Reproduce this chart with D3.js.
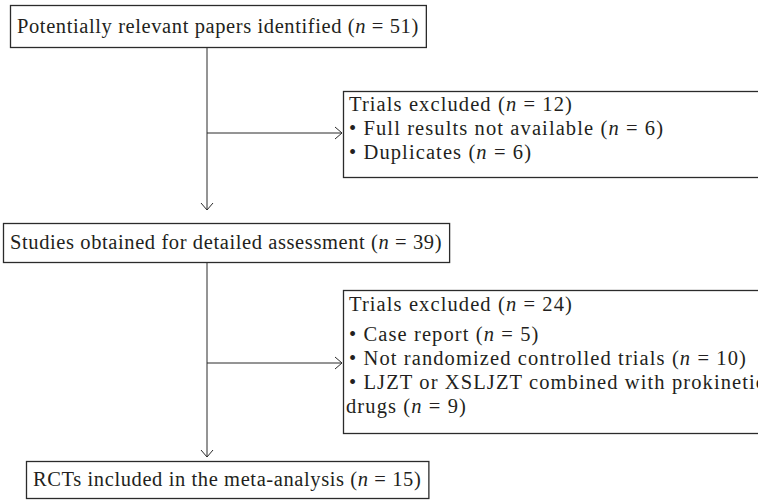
<!DOCTYPE html>
<html>
<head>
<meta charset="utf-8">
<script src="https://cdn.jsdelivr.net/npm/d3@7"></script>
<style>
  body { margin: 0; background: #fff; }
  svg text { font-family: "Liberation Serif", "DejaVu Serif", serif; fill: #231f20; }
  svg text.stage { letter-spacing: 0.6px; }
  svg text.side { letter-spacing: 1.1px; }
</style>
</head>
<body>
<div class="chart"></div>
<script>
// data
var stageLabels = ["Potentially relevant papers identified", "Studies obtained for detailed assessment", "RCTs included in the meta-analysis"];
var stageCounts = [51, 39, 15];
var excludedTotals = [12, 24];
var excludedReasons1 = ["Full results not available", "Duplicates"];
var excludedCounts1 = [6, 6];
var excludedReasons2 = ["Case report", "Not randomized controlled trials", "LJZT or XSLJZT combined with prokinetic drugs"];
var excludedCounts2 = [5, 10, 9];

var svgWidth = 758;
var svgHeight = 502;

var svg = d3.select(".chart")
  .append("svg")
  .attr("width", svgWidth)
  .attr("height", svgHeight);

// layout space -> pixels
var x = d3.scaleLinear().domain([0, 758]).range([0, svgWidth]);
var y = d3.scaleLinear().domain([0, 502]).range([0, svgHeight]);

var fontSize = 20.5;
var stroke = "#2b2b2b";
var mainX = 207;
var pad = 7;

// main stage boxes (width comes from the text)
var stageBoxes = [
  {x0: 10, y0: 5, y1: 47},
  {x0: 3, y0: 223, y1: 262},
  {x0: 26, y0: 461, y1: 498}
];
// side boxes (run off the right edge)
var sideBoxes = [
  {x0: 343, x1: 800, y0: 91, y1: 177, arrowY: 133, lineY: [111, 135, 159]},
  {x0: 343, x1: 800, y0: 290, y1: 433, arrowY: 363, lineY: [311, 341, 365, 389, 413]}
];

function nText(g, cls, tx, ty, prefix, n) {
  var t = g.append("text")
    .attr("class", cls)
    .attr("x", x(tx))
    .attr("y", y(ty))
    .attr("font-size", fontSize);
  t.append("tspan").text(prefix + "(");
  t.append("tspan").attr("font-style", "italic").text("n");
  t.append("tspan").text(" = " + n + ")");
  return t;
}

function arrowDown(ax, ay) {
  svg.append("path")
    .attr("d", `M${x(ax) - 6},${y(ay) - 7}L${x(ax)},${y(ay)}L${x(ax) + 6},${y(ay) - 7}`)
    .attr("fill", "none").attr("stroke", stroke).attr("stroke-width", 1);
}
function arrowRight(ax, ay) {
  svg.append("path")
    .attr("d", `M${x(ax) - 7},${y(ay) - 6}L${x(ax)},${y(ay)}L${x(ax) - 7},${y(ay) + 6}`)
    .attr("fill", "none").attr("stroke", stroke).attr("stroke-width", 1);
}

// connectors
svg.append("line")
  .attr("x1", x(mainX)).attr("x2", x(mainX))
  .attr("y1", y(stageBoxes[0].y1)).attr("y2", y(stageBoxes[1].y0 - 13))
  .attr("stroke", stroke);
arrowDown(mainX, stageBoxes[1].y0 - 13);

svg.append("line")
  .attr("x1", x(mainX)).attr("x2", x(mainX))
  .attr("y1", y(stageBoxes[1].y1)).attr("y2", y(stageBoxes[2].y0 - 4))
  .attr("stroke", stroke);
arrowDown(mainX, stageBoxes[2].y0 - 4);

sideBoxes.forEach(function(b) {
  svg.append("line")
    .attr("x1", x(mainX)).attr("x2", x(b.x0 - 1))
    .attr("y1", y(b.arrowY)).attr("y2", y(b.arrowY))
    .attr("stroke", stroke);
  arrowRight(b.x0 - 1, b.arrowY);
});

// stage boxes
stageBoxes.forEach(function(b, i) {
  var rect = svg.append("rect")
    .attr("x", x(b.x0) + 0.5).attr("y", y(b.y0) + 0.5)
    .attr("height", y(b.y1) - y(b.y0))
    .attr("fill", "#fff").attr("stroke", stroke).attr("stroke-width", 1.3);
  var t = nText(svg, "stage", b.x0 + pad, (b.y0 + b.y1) / 2 + 6.5, stageLabels[i] + " ", stageCounts[i]);
  var w = t.node().getComputedTextLength();
  rect.attr("width", w + 2 * pad);
});

// side boxes
sideBoxes.forEach(function(b, i) {
  svg.append("rect")
    .attr("x", x(b.x0) + 0.5).attr("y", y(b.y0) + 0.5)
    .attr("width", x(b.x1) - x(b.x0)).attr("height", y(b.y1) - y(b.y0))
    .attr("fill", "#fff").attr("stroke", stroke).attr("stroke-width", 1.3);
});

var tx = 349;
nText(svg, "side", tx, sideBoxes[0].lineY[0], "Trials excluded ", excludedTotals[0]);
excludedReasons1.forEach(function(r, i) {
  nText(svg, "side", tx, sideBoxes[0].lineY[i + 1], "\u2022 " + r + " ", excludedCounts1[i]);
});

nText(svg, "side", tx, sideBoxes[1].lineY[0], "Trials excluded ", excludedTotals[1]);
excludedReasons2.forEach(function(r, i) {
  if (i < 2) {
    nText(svg, "side", tx, sideBoxes[1].lineY[i + 1], "\u2022 " + r + " ", excludedCounts2[i]);
  } else {
    // wrap the long reason onto two lines
    var words = r.split(" ");
    var head = words.slice(0, words.length - 1).join(" ");
    var tail = words[words.length - 1];
    svg.append("text")
      .attr("class", "side")
      .attr("x", x(tx)).attr("y", y(sideBoxes[1].lineY[3]))
      .attr("font-size", fontSize)
      .text("\u2022 " + head);
    nText(svg, "side", tx - 3, sideBoxes[1].lineY[4], tail + " ", excludedCounts2[i]);
  }
});
</script>
</body>
</html>
